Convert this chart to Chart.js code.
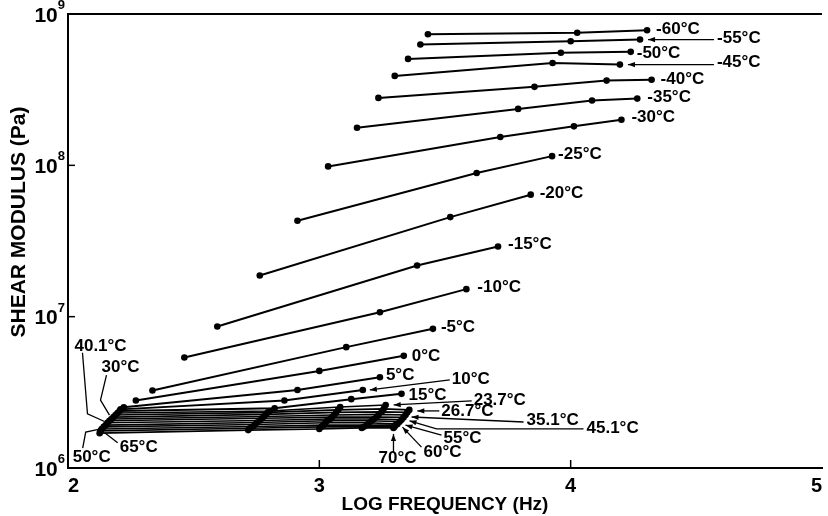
<!DOCTYPE html>
<html>
<head>
<meta charset="utf-8">
<script src="https://cdn.jsdelivr.net/npm/chart.js@4.4.1/dist/chart.umd.min.js"></script>
<style>
  html, body { margin: 0; padding: 0; background: #fff; }
  canvas { display: block; }
</style>
</head>
<body>
<canvas id="modulusChart" width="828" height="516"></canvas>
<script>
// isotherms, coldest first
const temps = [
  '-60°C', '-55°C', '-50°C', '-45°C', '-40°C', '-35°C', '-30°C', '-25°C', '-20°C',
  '-15°C', '-10°C', '-5°C', '0°C', '5°C', '10°C', '15°C', '23.7°C', '26.7°C',
  '30°C', '35.1°C', '40.1°C', '45.1°C', '50°C', '55°C', '60°C', '65°C', '70°C'
];

// log10 of frequency (Hz) for each measured point
const logFreq = [
  [3.432, 4.026, 4.304],
  [3.402, 4.000, 4.276],
  [3.353, 3.961, 4.239],
  [3.300, 3.928, 4.196],
  [3.235, 3.856, 4.143, 4.322],
  [3.150, 3.791, 4.085, 4.265],
  [3.035, 3.720, 4.013, 4.202],
  [2.913, 3.626, 3.926],
  [2.763, 3.521, 3.841],
  [2.594, 3.389, 3.711],
  [2.463, 3.241, 3.585],
  [2.336, 3.107, 3.452],
  [2.270, 3.000, 3.336],
  [2.222, 2.913, 3.241],
  [2.209, 2.861, 3.173],
  [2.205, 2.822, 3.127, 3.327],
  [2.197, 2.803, 3.083, 3.264],
  [2.189, 2.795, 3.075, 3.256, 3.358],
  [2.181, 2.787, 3.067, 3.248, 3.350],
  [2.173, 2.780, 3.059, 3.236, 3.343],
  [2.165, 2.772, 3.051, 3.228, 3.335],
  [2.157, 2.764, 3.043, 3.217, 3.327],
  [2.150, 2.752, 3.031, 3.209, 3.319],
  [2.142, 2.744, 3.024, 3.197, 3.311],
  [2.134, 2.736, 3.016, 3.189, 3.303],
  [2.130, 2.724, 3.008, 3.177, 3.299],
  [2.126, 2.717, 3.000, 3.169, 3.295]
];

// shear modulus (Pa) at those points
const modulus = [
  [7.35e8, 7.51e8, 7.81e8],
  [6.29e8, 6.61e8, 6.78e8],
  [5.05e8, 5.54e8, 5.62e8],
  [3.90e8, 4.75e8, 4.63e8],
  [2.79e8, 3.30e8, 3.63e8, 3.68e8],
  [1.77e8, 2.36e8, 2.68e8, 2.76e8],
  [9.84e7, 1.54e8, 1.81e8, 2.00e8],
  [4.30e7, 8.90e7, 1.15e8],
  [1.87e7, 4.55e7, 6.40e7],
  [8.61e6, 2.18e7, 2.91e7],
  [5.37e6, 1.07e7, 1.52e7],
  [3.25e6, 6.29e6, 8.31e6],
  [2.79e6, 4.38e6, 5.51e6],
  [2.52e6, 3.28e6, 3.98e6],
  [2.44e6, 2.79e6, 3.28e6],
  [2.38e6, 2.48e6, 2.85e6, 3.09e6],
  [2.31e6, 2.38e6, 2.53e6, 2.61e6],
  [2.24e6, 2.33e6, 2.42e6, 2.46e6, 2.42e6],
  [2.17e6, 2.26e6, 2.33e6, 2.35e6, 2.33e6],
  [2.11e6, 2.19e6, 2.24e6, 2.26e6, 2.24e6],
  [2.05e6, 2.13e6, 2.17e6, 2.17e6, 2.16e6],
  [1.99e6, 2.06e6, 2.11e6, 2.11e6, 2.08e6],
  [1.92e6, 2.00e6, 2.05e6, 2.05e6, 2.02e6],
  [1.87e6, 1.94e6, 1.99e6, 1.99e6, 1.95e6],
  [1.81e6, 1.88e6, 1.92e6, 1.92e6, 1.92e6],
  [1.76e6, 1.83e6, 1.87e6, 1.87e6, 1.87e6],
  [1.70e6, 1.78e6, 1.81e6, 1.84e6, 1.84e6]
];

const xTicks = [2, 3, 4, 5];
const yTicks = [1e6, 1e7, 1e8, 1e9];

// where each temperature tag goes, in px from its first or last point;
// lead = leader line points (same origin), arrow = arrowhead at the last one
const tagLayout = [
  { at: 'end', dx: 9, dy: -1 },
  { at: 'end', dx: 77, dy: -1, lead: [[74, 0], [8, 0]], arrow: true },
  { at: 'end', dx: 6, dy: 1.5 },
  { at: 'end', dx: 97, dy: -2, lead: [[94, 0], [8, 0]], arrow: true },
  { at: 'end', dx: 9, dy: 0 },
  { at: 'end', dx: 10, dy: -1.5 },
  { at: 'end', dx: 10, dy: -2 },
  { at: 'end', dx: 6, dy: -2 },
  { at: 'end', dx: 9, dy: -1.5 },
  { at: 'end', dx: 10, dy: -2 },
  { at: 'end', dx: 11, dy: -2 },
  { at: 'end', dx: 8, dy: -1.5 },
  { at: 'end', dx: 8, dy: 0 },
  { at: 'end', dx: 6, dy: -2 },
  { at: 'end', dx: 89, dy: -11, lead: [[87, -10], [7, 0]], arrow: true },
  { at: 'end', dx: 7, dy: 1 },
  { at: 'end', dx: 88, dy: -5, lead: [[86, -4], [8, 0]], arrow: true },
  { at: 'end', dx: 32, dy: 1.5, lead: [[30, 1], [8, 1]], arrow: true },
  { at: 'start', dx: -12, dy: -49.5, lead: [[-7, -42], [-13, -17], [-4, -2]] },
  { at: 'end', dx: 121, dy: 5, lead: [[118, 7], [6, 2]], arrow: true },
  { at: 'start', dx: -35, dy: -75, lead: [[-27, -68], [-22, -7], [-5, 0.7]] },
  { at: 'end', dx: 185, dy: 8.5, lead: [[182, 9], [35, 9], [8, 1]], arrow: true },
  { at: 'start', dx: -33, dy: 32.5, lead: [[-23, 23], [-20, 7], [-6, 4]] },
  { at: 'end', dx: 46, dy: 14, lead: [[44, 11], [8, 1]], arrow: true },
  { at: 'end', dx: 28, dy: 27, lead: [[26, 22], [7, 2]], arrow: true },
  { at: 'start', dx: 19, dy: 16.5, lead: [[17, 12], [4, 2]] },
  { at: 'end', dx: -15, dy: 30, lead: [[0, 25], [0, 6]], arrow: true }
];

const FONT = '"Liberation Sans", Arial, Helvetica, sans-serif';
Chart.defaults.font.family = FONT;
Chart.defaults.color = '#000';

function arrowHead(ctx, fx, fy, tx, ty) {
  const ang = Math.atan2(ty - fy, tx - fx);
  const len = 7, half = 2.6;
  const c = Math.cos(ang), s = Math.sin(ang);
  ctx.beginPath();
  ctx.moveTo(tx, ty);
  ctx.lineTo(tx - len * c + half * s, ty - len * s - half * c);
  ctx.lineTo(tx - len * c - half * s, ty - len * s + half * c);
  ctx.closePath();
  ctx.fill();
}

// frame, inward ticks, 10^n labels, y title and the temperature tags
const decorations = {
  id: 'decorations',
  afterDraw(chart) {
    const { ctx, chartArea: a, scales: { x, y } } = chart;
    ctx.save();
    ctx.strokeStyle = '#000';
    ctx.fillStyle = '#000';

    ctx.lineWidth = 2;
    ctx.beginPath();
    ctx.moveTo(a.left - 1, a.top);
    ctx.lineTo(a.right, a.top);
    ctx.stroke();

    ctx.lineWidth = 1.5;
    yTicks.slice(1, -1).forEach(v => {
      const py = y.getPixelForValue(v);
      ctx.beginPath(); ctx.moveTo(a.left, py); ctx.lineTo(a.left + 7, py); ctx.stroke();
    });
    xTicks.slice(1, -1).forEach(v => {
      const px = x.getPixelForValue(v);
      ctx.beginPath(); ctx.moveTo(px, a.bottom); ctx.lineTo(px, a.bottom - 8); ctx.stroke();
    });

    ctx.textBaseline = 'alphabetic';
    ctx.textAlign = 'left';
    yTicks.forEach(v => {
      const py = y.getPixelForValue(v);
      const exp = String(Math.round(Math.log10(v)));
      ctx.font = 'bold 13px ' + FONT;
      const ew = ctx.measureText(exp).width;
      ctx.fillText(exp, a.left - 3 - ew, py - 5);
      ctx.font = 'bold 21px ' + FONT;
      const bw = ctx.measureText('10').width;
      ctx.fillText('10', a.left - 3 - ew - bw, py + 7.5);
    });

    ctx.save();
    ctx.translate(19, 222);
    ctx.rotate(-Math.PI / 2);
    ctx.textAlign = 'center';
    ctx.textBaseline = 'middle';
    ctx.font = 'bold 21px ' + FONT;
    ctx.fillText('SHEAR MODULUS (Pa)', 0, 0);
    ctx.restore();

    ctx.font = 'bold 17px ' + FONT;
    ctx.textAlign = 'left';
    ctx.textBaseline = 'middle';
    ctx.lineWidth = 1.3;
    temps.forEach((t, i) => {
      const pts = chart.getDatasetMeta(i).data;
      const lay = tagLayout[i];
      const p = lay.at === 'start' ? pts[0] : pts[pts.length - 1];
      ctx.fillText(t, p.x + lay.dx, p.y + lay.dy);
      if (lay.lead) {
        ctx.beginPath();
        lay.lead.forEach(([lx, ly], k) => {
          if (k === 0) ctx.moveTo(p.x + lx, p.y + ly);
          else ctx.lineTo(p.x + lx, p.y + ly);
        });
        ctx.stroke();
        if (lay.arrow) {
          const n = lay.lead.length;
          const [ax, ay] = lay.lead[n - 2];
          const [bx, by] = lay.lead[n - 1];
          arrowHead(ctx, p.x + ax, p.y + ay, p.x + bx, p.y + by);
        }
      }
    });
    ctx.restore();
  }
};

const datasets = temps.map((t, i) => ({
  label: t,
  data: logFreq[i].map((f, j) => ({ x: f, y: modulus[i][j] })),
  borderColor: '#000',
  backgroundColor: '#000',
  borderWidth: i < 16 ? 2 : 1.6,
  pointRadius: 3.3,
  pointHoverRadius: 3.3,
  pointBorderWidth: 0,
  fill: false,
  tension: 0
}));

new Chart(document.getElementById('modulusChart'), {
  type: 'line',
  data: { datasets },
  options: {
    responsive: false,
    animation: false,
    devicePixelRatio: 1,
    layout: { padding: { top: 14, right: 0, bottom: 0, left: 0 } },
    plugins: { legend: { display: false }, tooltip: { enabled: false } },
    scales: {
      x: {
        type: 'linear',
        min: 2,
        max: 5,
        afterBuildTicks: s => { s.ticks = xTicks.map(v => ({ value: v })); },
        afterFit: s => { s.height = 48; },
        ticks: {
          align: 'inner',
          padding: 6,
          maxRotation: 0,
          color: '#000',
          font: { size: 20, weight: 'bold' },
          callback: v => String(v)
        },
        grid: { display: false, drawTicks: false },
        border: { display: true, color: '#000', width: 2 },
        title: {
          display: true,
          text: 'LOG FREQUENCY (Hz)',
          color: '#000',
          font: { size: 19, weight: 'bold' },
          padding: 0
        }
      },
      y: {
        type: 'logarithmic',
        min: 1e6,
        max: 1e9,
        afterBuildTicks: s => { s.ticks = yTicks.map(v => ({ value: v })); },
        afterFit: s => { s.width = 68; },
        ticks: { display: false },
        grid: { display: false, drawTicks: false },
        border: { display: true, color: '#000', width: 2 }
      }
    }
  },
  plugins: [decorations]
});
</script>
</body>
</html>
